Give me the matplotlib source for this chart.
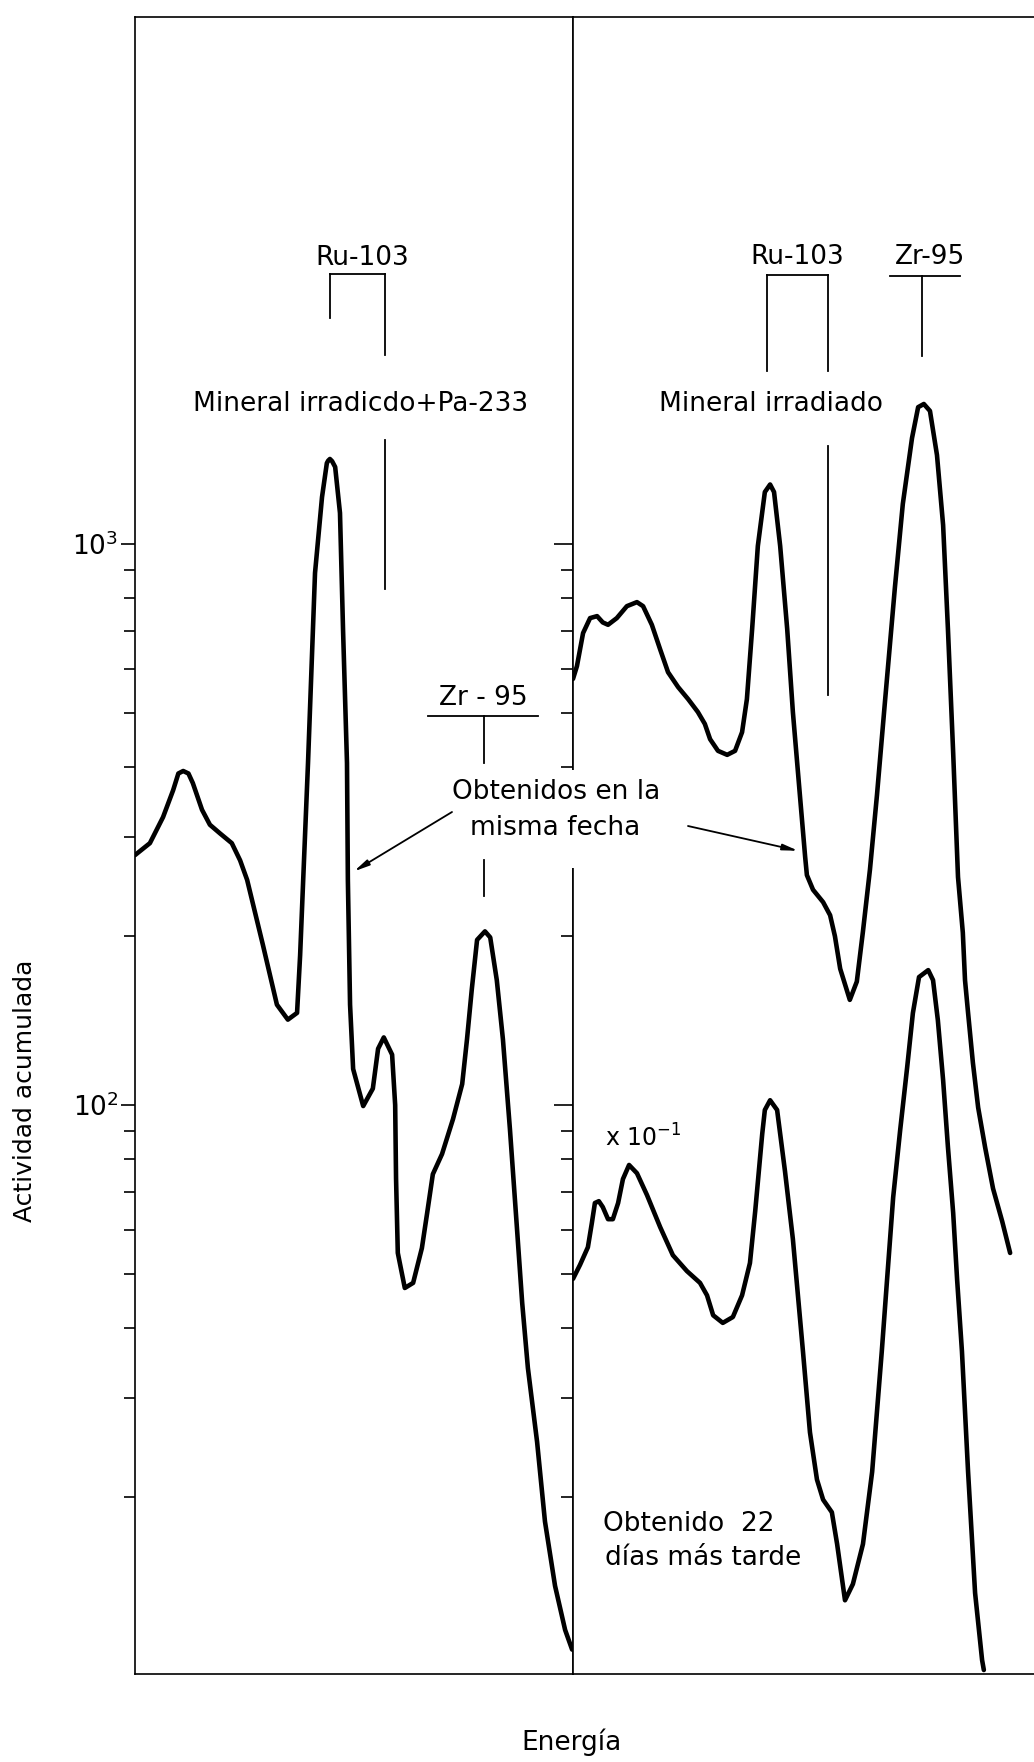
import matplotlib
matplotlib.use("Agg")
import matplotlib.pyplot as plt
import matplotlib.transforms as mtransforms
from matplotlib.patches import Rectangle
from matplotlib.ticker import FixedLocator, FixedFormatter, NullFormatter

plt.rcParams['font.family'] = ['DejaVu Sans']
plt.rcParams['mathtext.fontset'] = 'dejavusans'

# ---------------- data (energy channel, accumulated activity) ----------------
left_ch = [0, 3.4, 6.4, 8.7, 9.9, 11.0, 12.2, 13.2, 15.3, 17.1, 19.4, 22.1, 24.0, 25.6, 29.2,
           32.4, 34.9, 37.0, 37.7, 38.4, 39.5, 41.1, 42.7, 43.8, 44.1, 44.5, 45.0, 45.7, 46.8,
           47.5, 48.4, 48.6, 49.1, 49.8, 52.1, 54.3, 55.5, 56.8, 58.7, 59.4, 59.6,
           60.0, 61.6, 63.5, 65.5, 66.7, 68.0, 70.1, 72.6, 74.7, 75.8, 76.9, 78.1,
           79.9, 81.1, 82.6, 84.0, 85.6, 87.2, 88.4, 89.7, 91.8, 93.6, 95.9, 98.2, 99.8]
left_val = [279, 293, 326, 364, 390, 394, 390, 375, 336, 316, 305, 293, 273, 252, 193,
            151, 142, 146, 185, 252, 407, 888, 1213, 1394, 1408, 1418, 1405, 1372, 1136,
            703, 407, 252, 151, 116, 99.6, 107, 126, 132, 123, 100, 74,
            54.5, 47.2, 48.2, 55.6, 64.2, 75.3, 81.8, 94.4, 109, 131, 161, 197,
            204, 199, 167, 131, 90.6, 60.4, 44.4, 34.0, 25.1, 18.1, 13.9, 11.6, 10.7]

right_top_ch = [0, 0.9, 2.3, 3.9, 5.5, 6.8, 8.0, 10.0, 12.3, 14.6, 16.0, 18.0, 19.9,
                21.7, 24.0, 26.3, 28.5, 30.1, 31.3, 33.1, 35.2, 37.0, 38.6, 39.7,
                40.9, 42.2, 43.8, 45.0, 45.9, 47.3, 48.9, 50.2, 51.8, 53.0, 53.4,
                54.8, 57.1, 58.7, 59.8, 61.0, 63.2, 64.8, 66.2, 67.8, 69.4, 71.2,
                73.5, 75.3, 77.4, 78.8, 80.1, 81.5, 83.1, 84.5, 85.6, 86.8, 87.9,
                89.0, 89.5, 90.2, 91.3, 92.5, 94.1, 95.9, 98.0, 99.8]
right_top_val = [575, 606, 694, 738, 744, 725, 718, 738, 775, 788, 775, 718, 649,
                 591, 556, 529, 502, 478, 449, 428, 421, 428, 462, 529,
                 706, 992, 1238, 1277, 1238, 992, 706, 502, 357, 277, 257,
                 242, 230, 218, 200, 175, 154, 166, 204, 263, 357, 521,
                 838, 1179, 1545, 1754, 1777, 1727, 1441, 1081, 706, 424, 255,
                 203, 167, 146, 119, 99, 84, 71, 62, 54.5]

# second spectrum (22 days later), plotted x 10^-1
right_low_ch = [0, 1.6, 3.4, 4.3, 5.0, 5.9, 6.8, 8.0, 9.1, 10.3, 11.4, 12.8, 14.6,
                16.9, 19.9, 22.8, 26.0, 29.0, 30.6, 32.0, 34.2, 36.5, 38.6, 40.4,
                41.6, 43.2, 43.8, 45.0, 46.6, 48.4, 50.2, 52.5, 54.1, 55.7, 57.1,
                59.1, 60.3, 62.1, 63.9, 66.2, 68.3, 70.5, 71.7, 73.1, 74.7, 76.3,
                77.6, 79.0, 81.1, 82.2, 83.3, 84.5, 85.6, 86.8, 87.7, 88.8, 90.2,
                91.8, 93.4, 93.8]
right_low_val = [49.0, 51.9, 55.8, 61.6, 66.9, 67.4, 65.8, 62.6, 62.6, 66.9, 73.8, 78.2, 75.6,
                 69.1, 60.6, 54.0, 50.6, 48.2, 45.8, 42.2, 40.9, 41.9, 45.8, 52.3,
                 64.7, 88.8, 98, 102, 98, 76.2, 57.7, 36.4, 26.1, 21.5, 19.8,
                 18.8, 16.5, 13.1, 14.0, 16.5, 22.2, 36.4, 48.8, 68.5, 90.3, 116.9,
                 145.9, 169.1, 174, 167, 141.7, 110.8, 84.2, 64.2, 48.8, 36.4, 22.2,
                 13.5, 10.25, 9.84]

major_ticks = [100, 1000]
major_labels = ['$10^2$', '$10^3$']
minor_ticks = [20, 30, 40, 50, 60, 70, 80, 90, 200, 300, 400, 500, 600, 700, 800, 900]

# isotope marker positions (channels)
ru103_left = [44.5, 57.1]
zr95_left = 79.7
ru103_right = [44.3, 58.2]
zr95_right = 79.7

# ---------------- figure ----------------
W, H = 1034, 1762
fig = plt.figure(figsize=(W / 100, H / 100), dpi=100)
ax_bottom = (H - 1674) / H
ax_height = (1674 - 17) / H
axL = fig.add_axes([135 / W, ax_bottom, 438 / W, ax_height])
axR = fig.add_axes([573 / W, ax_bottom, 461 / W, ax_height])

YLIM = (9.68, 8700)
lw_curve = 3.3
for ax, xmax in ((axL, 100), (axR, 461 / 4.38)):
    ax.set_yscale('log')
    ax.set_ylim(*YLIM)
    ax.set_xlim(0, xmax)
    ax.set_xticks([])
    ax.yaxis.set_major_locator(FixedLocator(major_ticks))
    ax.yaxis.set_minor_locator(FixedLocator(minor_ticks))
    ax.yaxis.set_minor_formatter(NullFormatter())
    for s in ax.spines.values():
        s.set_linewidth(1.2)

axL.yaxis.set_major_formatter(FixedFormatter(major_labels))
axL.tick_params(axis='y', which='major', direction='out', length=10, width=1.2,
                labelsize=19, pad=2)
axL.tick_params(axis='y', which='minor', direction='out', length=8, width=1.2)
axR.yaxis.set_major_formatter(NullFormatter())
axR.tick_params(axis='y', which='major', direction='out', length=14, width=1.2,
                labelleft=False)
axR.tick_params(axis='y', which='minor', direction='out', length=9, width=1.2)
axR.spines['right'].set_visible(False)

curve_kw = dict(color='black', lw=lw_curve, solid_joinstyle='round',
                solid_capstyle='round')
axL.plot(left_ch, left_val, **curve_kw)
axR.plot(right_top_ch, right_top_val, **curve_kw)
axR.plot(right_low_ch, right_low_val, **curve_kw)

# ---------------- annotations ----------------
FS = 19
lw_ann = 1.3
tL = mtransforms.blended_transform_factory(axL.transData, axL.transAxes)
tR = mtransforms.blended_transform_factory(axR.transData, axR.transAxes)


def vline(ax, tr, x, y0, y1):
    ax.plot([x, x], [y0, y1], color='black', lw=lw_ann, transform=tr, clip_on=False)


def hline(ax, tr, x0, x1, y):
    ax.plot([x0, x1], [y, y], color='black', lw=lw_ann, transform=tr, clip_on=False)


# left panel: Ru-103 bracket
axL.text(51.8, 0.8546, 'Ru-103', transform=tL, ha='center', va='center', fontsize=FS)
hline(axL, tL, ru103_left[0], ru103_left[1], 0.8449)
vline(axL, tL, ru103_left[0], 0.8449, 0.8183)
vline(axL, tL, ru103_left[1], 0.8449, 0.7960)
vline(axL, tL, ru103_left[1], 0.7447, 0.6548)
axL.text(51.6, 0.7665, 'Mineral irradicdo+Pa-233', transform=tL, ha='center',
         va='center', fontsize=FS)
# left panel: Zr-95
axL.text(79.5, 0.5890, 'Zr - 95', transform=tL, ha='center', va='center', fontsize=FS)
hline(axL, tL, 66.9, 92.0, 0.5782)
vline(axL, tL, zr95_left, 0.5782, 0.5498)
vline(axL, tL, zr95_left, 0.4912, 0.4695)

# right panel
axR.text(51.1, 0.8552, 'Ru-103', transform=tR, ha='center', va='center', fontsize=FS)
hline(axR, tR, ru103_right[0], ru103_right[1], 0.8443)
vline(axR, tR, ru103_right[0], 0.8443, 0.7864)
vline(axR, tR, ru103_right[1], 0.8443, 0.7864)
vline(axR, tR, ru103_right[1], 0.7411, 0.5908)
axR.text(81.5, 0.8552, 'Zr-95', transform=tR, ha='center', va='center', fontsize=FS)
hline(axR, tR, 72.4, 88.4, 0.8437)
vline(axR, tR, zr95_right, 0.8437, 0.7954)
axR.text(45.2, 0.7665, 'Mineral irradiado', transform=tR, ha='center',
         va='center', fontsize=FS)
axR.text(16.0, 0.3235, 'x 10$^{-1}$', transform=tR, ha='center', va='center',
         fontsize=17)
axR.text(26.5, 0.0905, 'Obtenido  22', transform=tR, ha='center', va='center',
         fontsize=FS)
axR.text(29.7, 0.0700, 'días más tarde', transform=tR, ha='center', va='center',
         fontsize=FS)

# gap in the divider line behind the common note
fig.add_artist(Rectangle((552 / W, 1 - 868 / H), 25 / W, 98 / H,
                         transform=fig.transFigure, facecolor='white',
                         edgecolor='none', zorder=10))

# common note with arrows
fig.text(556 / W, 1 - 792 / H, 'Obtenidos en la', ha='center', va='center',
         fontsize=FS, zorder=20)
fig.text(555 / W, 1 - 828 / H, 'misma fecha', ha='center', va='center',
         fontsize=FS, zorder=20)
arrow_kw = dict(arrowstyle='-|>,head_length=0.9,head_width=0.18', lw=1.3,
                color='black', shrinkA=0, shrinkB=0)
axL.annotate('', xy=(50.0, 261), xycoords='data',
             xytext=(452 / W, 1 - 812 / H), textcoords='figure fraction',
             arrowprops=arrow_kw)
axR.annotate('', xy=(51.4, 284), xycoords='data',
             xytext=(688 / W, 1 - 826 / H), textcoords='figure fraction',
             arrowprops=arrow_kw)

# axis titles
fig.text(572 / W, 1 - 1742 / H, 'Energía', ha='center', va='center', fontsize=FS)
fig.text(25 / W, 1 - 1091 / H, 'Actividad acumulada', ha='center', va='center',
         rotation=90, fontsize=18)

fig.savefig('out.png', dpi=100)
